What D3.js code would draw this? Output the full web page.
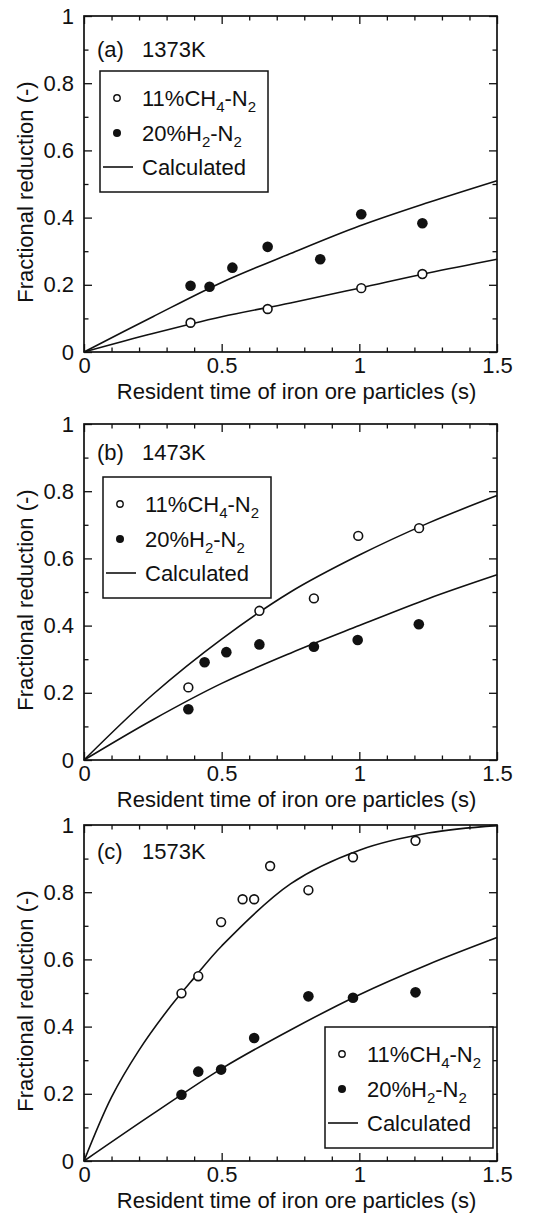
<!DOCTYPE html>
<html lang="en">
<head>
<meta charset="UTF-8">
<title>Fractional reduction vs resident time</title>
<script src="https://cdn.jsdelivr.net/npm/d3@7"></script>
<style>
  body { margin: 0; padding: 0; background: #fff; }
  svg { display: block; font-family: "Liberation Sans", Arial, Helvetica, sans-serif; }
  .tick line { stroke: #111; stroke-width: 1.3; }
  .tick text { font-size: 22px; fill: #111; }
  .frame { fill: none; stroke: #111; stroke-width: 1.7; }
  .calc { fill: none; stroke: #111; stroke-width: 1.6; }
  .title { font-size: 22px; fill: #111; }
  .lbl { font-size: 22px; fill: #111; }
  .legbox { fill: #fff; stroke: #111; stroke-width: 1.5; }
</style>
</head>
<body>
<div id="chart"></div>
<script>
// ---- data ----
const panelTags = ["(a)", "(b)", "(c)"];
const temps = ["1373K", "1473K", "1573K"];

const xTickVals = [0, 0.5, 1, 1.5];
const xTickLabels = ["0", "0.5", "1", "1.5"];
const yTickVals = [0, 0.2, 0.4, 0.6, 0.8, 1];
const yTickLabels = ["0", "0.2", "0.4", "0.6", "0.8", "1"];

const legendNames = ["11%CH4-N2", "20%H2-N2", "Calculated"];

// (a) 1373K
const ch4A_x = [0.387, 0.667, 1.007, 1.229];
const ch4A_y = [0.087, 0.128, 0.190, 0.232];
const h2A_x = [0.387, 0.456, 0.539, 0.667, 0.858, 1.007, 1.229];
const h2A_y = [0.197, 0.194, 0.251, 0.313, 0.276, 0.410, 0.383];
const calcA_x = [0, 0.25, 0.5, 0.75, 1.0, 1.25, 1.5];
const calcA_ch4 = [0, 0.055, 0.105, 0.146, 0.190, 0.235, 0.276];
const calcA_h2 = [0, 0.105, 0.207, 0.293, 0.375, 0.445, 0.510];

// (b) 1473K
const ch4B_x = [0.379, 0.637, 0.835, 0.996, 1.217];
const ch4B_y = [0.216, 0.444, 0.481, 0.667, 0.690];
const h2B_x = [0.379, 0.438, 0.517, 0.637, 0.835, 0.994, 1.216];
const h2B_y = [0.151, 0.291, 0.321, 0.344, 0.337, 0.357, 0.404];
const calcB_x = [0, 0.25, 0.5, 0.75, 1.0, 1.25, 1.5];
const calcB_ch4 = [0, 0.195, 0.360, 0.500, 0.610, 0.705, 0.787];
const calcB_h2 = [0, 0.120, 0.228, 0.318, 0.400, 0.480, 0.551];

// (c) 1573K
const ch4C_x = [0.354, 0.415, 0.498, 0.576, 0.618, 0.676, 0.815, 0.977, 1.204];
const ch4C_y = [0.499, 0.550, 0.711, 0.779, 0.779, 0.878, 0.806, 0.904, 0.953];
const h2C_x = [0.354, 0.415, 0.498, 0.618, 0.815, 0.977, 1.204];
const h2C_y = [0.197, 0.266, 0.272, 0.366, 0.490, 0.486, 0.502];
const calcC_ch4x = [0, 0.1, 0.2, 0.3, 0.4, 0.5, 0.75, 1.0, 1.25, 1.5];
const calcC_ch4 = [0, 0.190, 0.330, 0.445, 0.545, 0.640, 0.825, 0.925, 0.976, 0.998];
const calcC_h2x = [0, 0.25, 0.5, 0.75, 1.0, 1.25, 1.5];
const calcC_h2 = [0, 0.140, 0.275, 0.390, 0.495, 0.585, 0.665];

function pts(xs, ys) { return xs.map((v, i) => [v, ys[i]]); }

const panelData = [
  { open: pts(ch4A_x, ch4A_y), filled: pts(h2A_x, h2A_y),
    lines: [pts(calcA_x, calcA_ch4), pts(calcA_x, calcA_h2)] },
  { open: pts(ch4B_x, ch4B_y), filled: pts(h2B_x, h2B_y),
    lines: [pts(calcB_x, calcB_ch4), pts(calcB_x, calcB_h2)] },
  { open: pts(ch4C_x, ch4C_y), filled: pts(h2C_x, h2C_y),
    lines: [pts(calcC_ch4x, calcC_ch4), pts(calcC_h2x, calcC_h2)] }
];

// ---- layout ----
const W = 551, H = 1215;
const left = 84, right = 497, ph = 336;
const tops = [16, 424, 825];
const tagBase = [41, 36, 34];          // baseline of "(a) 1373K" below frame top
const legPos = [[16, 55], [19, 53], [241, 202]]; // legend box offset in frame
const legW = 168, legH = 121;

const svg = d3.select("#chart").append("svg")
  .attr("width", W).attr("height", H);
svg.append("rect").attr("width", W).attr("height", H).attr("fill", "#fff");

const x = d3.scaleLinear().domain([0, 1.5]).range([0, right - left]);
const y = d3.scaleLinear().domain([0, 1]).range([ph, 0]);

const xMinor = d3.range(0, 1.5001, 0.1).map(v => +v.toFixed(1)).filter(v => !xTickVals.includes(v));
const yMinor = d3.range(0.1, 1, 0.2).map(v => +v.toFixed(1));

const line = d3.line().x(d => x(d[0])).y(d => y(d[1])).curve(d3.curveCatmullRom.alpha(0.5));

function legendLabel(g, i, tx, ty) {
  const t = g.append("text").attr("class", "lbl").attr("x", tx).attr("y", ty)
    .attr("dy", "0.36em");
  if (i === 0) {
    t.append("tspan").text("11%CH");
    t.append("tspan").attr("font-size", "15px").attr("dy", 6).text("4");
    t.append("tspan").attr("dy", -6).text("-N");
    t.append("tspan").attr("font-size", "15px").attr("dy", 6).text("2");
  } else if (i === 1) {
    t.append("tspan").text("20%H");
    t.append("tspan").attr("font-size", "15px").attr("dy", 6).text("2");
    t.append("tspan").attr("dy", -6).text("-N");
    t.append("tspan").attr("font-size", "15px").attr("dy", 6).text("2");
  } else {
    t.text(legendNames[2]);
  }
}

panelData.forEach((pd, k) => {
  const g = svg.append("g").attr("transform", `translate(${left},${tops[k]})`);

  // ticks on all four sides, pointing inward
  const fmtX = (d) => xTickLabels[xTickVals.indexOf(d)];
  const fmtY = (d) => yTickLabels[yTickVals.indexOf(d)];

  g.append("g").attr("transform", `translate(0,${ph})`)
    .call(d3.axisBottom(x).tickValues(xTickVals).tickSize(-8).tickPadding(5).tickFormat(fmtX))
    .call(a => a.select(".domain").remove());
  g.append("g").attr("transform", `translate(0,${ph})`)
    .call(d3.axisBottom(x).tickValues(xMinor).tickSize(-4.5).tickFormat(""))
    .call(a => a.select(".domain").remove());
  g.append("g")
    .call(d3.axisTop(x).tickValues(xTickVals).tickSize(-8).tickFormat(""))
    .call(a => a.select(".domain").remove());
  g.append("g")
    .call(d3.axisTop(x).tickValues(xMinor).tickSize(-4.5).tickFormat(""))
    .call(a => a.select(".domain").remove());

  g.append("g")
    .call(d3.axisLeft(y).tickValues(yTickVals).tickSize(-8).tickPadding(10).tickFormat(fmtY))
    .call(a => a.select(".domain").remove());
  g.append("g")
    .call(d3.axisLeft(y).tickValues(yMinor).tickSize(-4.5).tickFormat(""))
    .call(a => a.select(".domain").remove());
  g.append("g").attr("transform", `translate(${right - left},0)`)
    .call(d3.axisRight(y).tickValues(yTickVals).tickSize(-8).tickFormat(""))
    .call(a => a.select(".domain").remove());
  g.append("g").attr("transform", `translate(${right - left},0)`)
    .call(d3.axisRight(y).tickValues(yMinor).tickSize(-4.5).tickFormat(""))
    .call(a => a.select(".domain").remove());

  g.selectAll(".tick text").attr("font-family", null).attr("font-size", null);

  g.append("rect").attr("class", "frame")
    .attr("width", right - left).attr("height", ph);

  // calculated curves
  pd.lines.forEach(l => {
    g.append("path").datum(l).attr("class", "calc").attr("d", line);
  });

  // measured points
  g.selectAll(".pf").data(pd.filled).join("circle")
    .attr("cx", d => x(d[0])).attr("cy", d => y(d[1])).attr("r", 5.3)
    .attr("fill", "#111");
  g.selectAll(".po").data(pd.open).join("circle")
    .attr("cx", d => x(d[0])).attr("cy", d => y(d[1])).attr("r", 4.4)
    .attr("fill", "#fff").attr("stroke", "#111").attr("stroke-width", 1.6);

  // panel tag
  g.append("text").attr("class", "lbl").attr("x", 13).attr("y", tagBase[k]).text(panelTags[k]);
  g.append("text").attr("class", "lbl").attr("x", 58).attr("y", tagBase[k]).text(temps[k]);

  // legend
  const lg = g.append("g").attr("transform", `translate(${legPos[k][0]},${legPos[k][1]})`);
  lg.append("rect").attr("class", "legbox").attr("width", legW).attr("height", legH);
  const rows = [27, 62, 96];
  lg.append("circle").attr("cx", 17).attr("cy", rows[0]).attr("r", 3.2)
    .attr("fill", "#fff").attr("stroke", "#111").attr("stroke-width", 1.4);
  lg.append("circle").attr("cx", 17).attr("cy", rows[1]).attr("r", 4).attr("fill", "#111");
  lg.append("line").attr("x1", 3).attr("x2", 33).attr("y1", rows[2]).attr("y2", rows[2])
    .attr("stroke", "#111").attr("stroke-width", 1.6);
  [0, 1, 2].forEach(i => legendLabel(lg, i, 42, rows[i]));

  // axis titles
  g.append("text").attr("class", "title")
    .attr("text-anchor", "middle")
    .attr("x", (right - left) / 2 + 6).attr("y", ph + 47)
    .text("Resident time of iron ore particles (s)");
  g.append("text").attr("class", "title")
    .attr("text-anchor", "middle")
    .attr("transform", `translate(${33 - left},${ph / 2 + 8}) rotate(-90)`)
    .text("Fractional reduction (-)");
});
</script>
</body>
</html>
